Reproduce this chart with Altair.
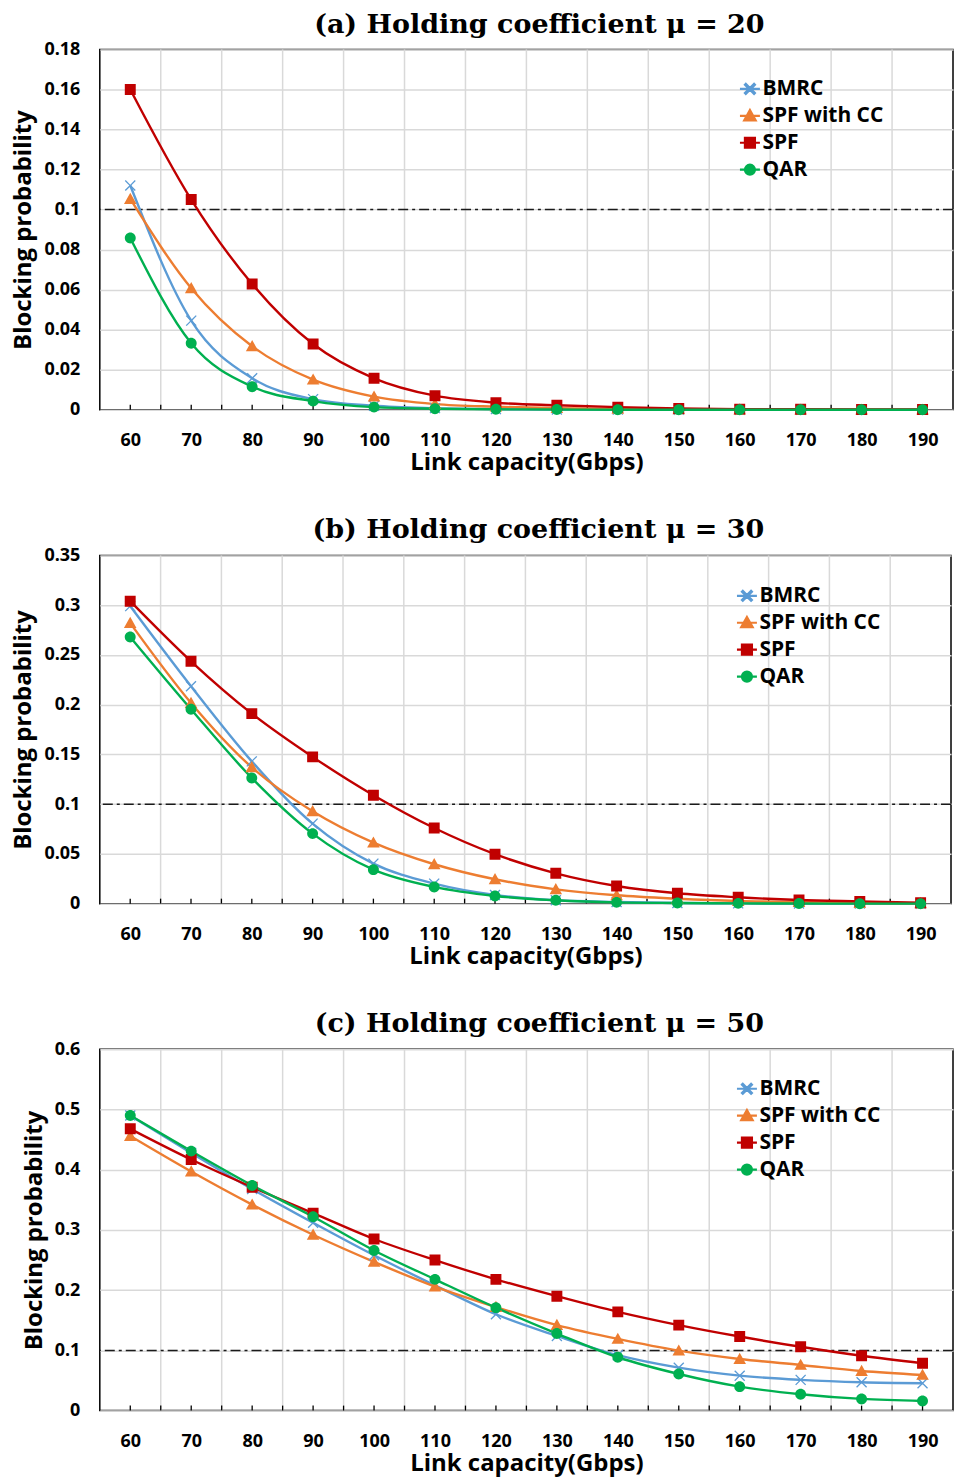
import altair as alt
import pandas as pd

# ---------------- data ----------------
capacity = [60, 70, 80, 90, 100, 110, 120, 130, 140, 150, 160, 170, 180, 190]
methods = ["BMRC", "SPF with CC", "SPF", "QAR"]
colors = ["#5B9BD5", "#ED7D31", "#C00000", "#00B050"]

# (a) mu = 20
a_bmrc = [0.112, 0.0445, 0.0157, 0.0053, 0.002, 0.0008, 0.0003, 0.0001, 0.00005, 0.0, 0.0, 0.0, 0.0, 0.0]
a_spfcc = [0.1053, 0.0607, 0.0317, 0.015, 0.0065, 0.0028, 0.0015, 0.0008, 0.0004, 0.0002, 0.0001, 0.0, 0.0, 0.0]
a_spf = [0.160, 0.105, 0.0628, 0.0328, 0.0157, 0.007, 0.0035, 0.0022, 0.0013, 0.0006, 0.0003, 0.0002, 0.0001, 0.0001]
a_qar = [0.0858, 0.0332, 0.0115, 0.0043, 0.0013, 0.0005, 0.0002, 0.0001, 0.0, 0.0, 0.0, 0.0, 0.0, 0.0]

# (b) mu = 30
b_bmrc = [0.299, 0.2185, 0.143, 0.0804, 0.0402, 0.0201, 0.0087, 0.0034, 0.0017, 0.0007, 0.0003, 0.0001, 0.0001, 0.0]
b_spfcc = [0.282, 0.2017, 0.137, 0.0928, 0.0613, 0.0396, 0.0245, 0.0144, 0.0084, 0.005, 0.0027, 0.0017, 0.0007, 0.0003]
b_spf = [0.304, 0.2436, 0.191, 0.1475, 0.109, 0.076, 0.0497, 0.0305, 0.0178, 0.0104, 0.0064, 0.0037, 0.0023, 0.001]
b_qar = [0.268, 0.1954, 0.1263, 0.0704, 0.0342, 0.0168, 0.0077, 0.0034, 0.0013, 0.0007, 0.0003, 0.0001, 0.0, 0.0]

# (c) mu = 50
c_bmrc = [0.490, 0.428, 0.368, 0.312, 0.258, 0.208, 0.160, 0.124, 0.092, 0.0713, 0.058, 0.051, 0.047, 0.0454]
c_spfcc = [0.456, 0.397, 0.342, 0.292, 0.247, 0.206, 0.172, 0.142, 0.119, 0.0995, 0.0857, 0.0758, 0.0658, 0.0592]
c_spf = [0.468, 0.417, 0.371, 0.328, 0.285, 0.250, 0.218, 0.190, 0.164, 0.142, 0.123, 0.106, 0.091, 0.0786]
c_qar = [0.490, 0.431, 0.374, 0.322, 0.266, 0.218, 0.171, 0.128, 0.0886, 0.0608, 0.0398, 0.0272, 0.0194, 0.016]

a_yticks = [0, 0.02, 0.04, 0.06, 0.08, 0.1, 0.12, 0.14, 0.16, 0.18]
b_yticks = [0, 0.05, 0.1, 0.15, 0.2, 0.25, 0.3, 0.35]
c_yticks = [0, 0.1, 0.2, 0.3, 0.4, 0.5, 0.6]

threshold = [0.1]
grid_x = [65, 75, 85, 95, 105, 115, 125, 135, 145, 155, 165, 175, 185]
tick_x = [60, 65, 70, 75, 80, 85, 90, 95, 100, 105, 110, 115, 120, 125, 130, 135,
          140, 145, 150, 155, 160, 165, 170, 175, 180, 185, 190]

# marker shapes (filled marker + a horizontal stroke that only the legend strokes)
LINE = " M-2,0H2"
e = 0.17
X_PATH = (f"M-1,{-1+e:.2f}L{-1+e:.2f},-1L0,{-e:.2f}L{1-e:.2f},-1L1,{-1+e:.2f}L{e:.2f},0"
          f"L1,{1-e:.2f}L{1-e:.2f},1L0,{e:.2f}L{-1+e:.2f},1L-1,{1-e:.2f}L{-e:.2f},0Z") + LINE
TRI_PATH = "M0,-1.15L1.15,0.9L-1.15,0.9Z" + LINE
SQ_PATH = "M-1,-1H1V1H-1Z" + LINE
CIR_PATH = "M-1,0A1,1 0 1,0 1,0A1,1 0 1,0 -1,0Z" + LINE
shapes = [X_PATH, TRI_PATH, SQ_PATH, CIR_PATH]

SANS = "Open Sans"


def panel(title, series, yticks, ymax, w, h, lx, ly):
    rows = []
    for m, vals in zip(methods, series):
        for c, v in zip(capacity, vals):
            rows.append({"cap": c, "val": v, "method": m})
    df = pd.DataFrame(rows)

    xs = alt.Scale(domain=[55, 195], nice=False, zero=False)
    ys = alt.Scale(domain=[0, ymax], nice=False, zero=True)
    cs = alt.Scale(domain=methods, range=colors)
    ss = alt.Scale(domain=methods, range=shapes)

    x_enc = alt.X("cap:Q", scale=xs, axis=alt.Axis(
        values=capacity, grid=False, ticks=False, domain=False,
        labelFont=SANS, labelFontSize=18, labelFontWeight="bold", labelColor="black",
        labelPadding=22, title="Link capacity(Gbps)", titleFont=SANS, titleFontSize=24,
        titleFontWeight="bold", titleColor="black", titlePadding=1))
    y_enc = alt.Y("val:Q", scale=ys, axis=alt.Axis(
        values=yticks, format=".2~f", grid=True, gridColor="#D9D9D9", gridWidth=1.5,
        ticks=False, domain=False,
        labelFont=SANS, labelFontSize=18, labelFontWeight="bold", labelColor="black",
        labelPadding=20, title="Blocking probability", titleFont=SANS, titleFontSize=24,
        titleFontWeight="bold", titleColor="black", titlePadding=8))

    leg = alt.Legend(title=None, orient="none", legendX=lx, legendY=ly,
                     labelFont=SANS, labelFontSize=21, labelFontWeight="bold",
                     labelColor="black", symbolSize=100, symbolStrokeWidth=2.2,
                     labelOffset=2, rowPadding=5, padding=0)

    color_enc = alt.Color("method:N", scale=cs, legend=leg)
    shape_enc = alt.Shape("method:N", scale=ss, legend=leg)

    # helper layers use the same field names and axis definitions
    grid = alt.Chart(pd.DataFrame({"cap": grid_x})).mark_rule(
        color="#D9D9D9", strokeWidth=1.5).encode(x=x_enc)
    ticks = alt.Chart(pd.DataFrame({"cap": tick_x})).mark_rule(
        color="black", strokeWidth=1.3).encode(
        x=x_enc, y=alt.value(h - 5), y2=alt.value(h))
    thr = alt.Chart(pd.DataFrame({"val": threshold})).mark_rule(
        color="#1a1a1a", strokeWidth=1.5, strokeDash=[10, 4, 3, 4]).encode(y=y_enc)

    base = alt.Chart(df)
    # empty layer that only defines the legend (filled marker + stroked line)
    legend_layer = base.transform_filter("false").mark_point(
        filled=True, strokeWidth=2.2, opacity=1).encode(
        x=x_enc, y=y_enc, color=color_enc,
        stroke=alt.Stroke("method:N", scale=alt.Scale(domain=methods, range=colors), legend=leg),
        shape=shape_enc)
    lines = base.mark_line(strokeWidth=2.4, interpolate="monotone").encode(
        x=x_enc, y=y_enc, color=color_enc)
    pts = base.mark_point(filled=True, size=120, opacity=1).encode(
        x=x_enc, y=y_enc, color=color_enc, shape=shape_enc)

    return alt.layer(legend_layer, grid, ticks, thr, lines, pts).properties(
        width=w, height=h,
        title=alt.TitleParams(text=title, font="DejaVu Serif", fontSize=27,
                              fontWeight="bold", color="black", anchor="middle",
                              frame="group", offset=2, dx=13))


pa = panel("(a) Holding coefficient  μ  =  20", [a_bmrc, a_spfcc, a_spf, a_qar],
           a_yticks, 0.18, 855, 361, 641, 29)
pb = panel("(b) Holding coefficient  μ  =  30", [b_bmrc, b_spfcc, b_spf, b_qar],
           b_yticks, 0.35, 853, 349, 638, 30)
pc = panel("(c) Holding coefficient  μ  =  50", [c_bmrc, c_spfcc, c_spf, c_qar],
           c_yticks, 0.6, 855, 362, 638, 29)

chart = alt.concat(pa, pb, pc, columns=1, spacing=40, align="none").resolve_scale(
    color="independent", shape="independent", stroke="independent"
).configure_view(stroke="black", strokeWidth=1.5).properties(
    padding={"left": 3, "top": 0, "right": 0, "bottom": 0},
    background="white")

chart.save("out.html", embed_options={"renderer": "svg", "actions": False})
